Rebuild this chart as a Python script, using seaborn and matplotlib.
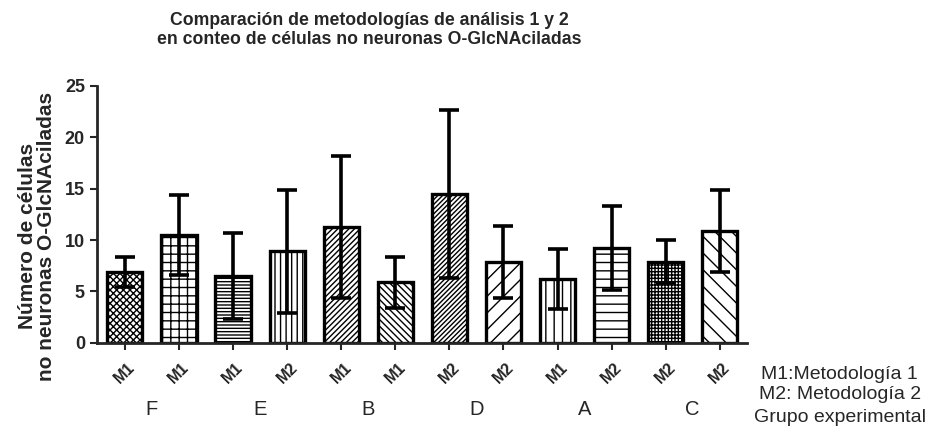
import numpy as np
import pandas as pd
import matplotlib
matplotlib.use("Agg")
import matplotlib.pyplot as plt
import seaborn as sns

# Values (mean and SD per bar)
bar_ids = ["b1", "b2", "b3", "b4", "b5", "b6", "b7", "b8", "b9", "b10", "b11", "b12"]
metodo = ["M1", "M1", "M1", "M2", "M1", "M1", "M2", "M2", "M1", "M2", "M2", "M2"]
media = [6.9, 10.5, 6.5, 8.9, 11.3, 5.9, 14.5, 7.9, 6.2, 9.2, 7.9, 10.9]
sd = [1.5, 3.9, 4.2, 6.0, 6.9, 2.5, 8.2, 3.5, 2.9, 4.1, 2.1, 4.0]
grupos = ["F", "E", "B", "D", "A", "C"]
hatches = ["xxxxx", "++", "-----", "|||", "//////", "\\\\\\\\\\", "///////", "//", "||", "--", "+++++", "\\\\"]

df = pd.DataFrame({"bar": bar_ids, "media": media})

sns.set_style("ticks")
plt.rcParams["font.family"] = ["Liberation Sans", "DejaVu Sans"]
plt.rcParams["hatch.linewidth"] = 1.0

fig = plt.figure(figsize=(9.3, 4.34), dpi=100)
ax = fig.add_axes([0.104, 0.21, 0.699, 0.592])

sns.barplot(data=df, x="bar", y="media", order=bar_ids, color="white",
            width=0.65, edgecolor="black", linewidth=2.4, ax=ax, zorder=2)
for p, h in zip(ax.patches, hatches):
    p.set_hatch(h)
    p.set_facecolor("white")
    p.set_edgecolor("black")

ax.errorbar(np.arange(len(bar_ids)), media, yerr=sd, fmt="none", ecolor="black",
            elinewidth=2.6, capsize=7, capthick=2.6, zorder=3)

ax.set_xlim(-0.52, 11.5)
ax.set_ylim(0, 25)
ax.set_yticks([0, 5, 10, 15, 20, 25])
ax.set_yticklabels(["0", "5", "10", "15", "20", "25"], fontsize=13, fontweight="bold")
ax.set_xticks(np.arange(len(bar_ids)))
ax.set_xticklabels(metodo, rotation=45, fontsize=11.5, fontweight="bold",
                   ha="center", va="top")
ax.tick_params(axis="both", width=1.5, length=5)
ax.tick_params(axis="x", pad=7)
for s in ["left", "bottom"]:
    ax.spines[s].set_linewidth(2)
sns.despine(ax=ax)
ax.set_xlabel("")
ax.set_ylabel("Número de células\nno neuronas O-GlcNAciladas", fontsize=15,
              fontweight="bold", linespacing=1.0)
ax.yaxis.set_label_coords(-0.063, 0.415)

fig.text(0.397, 0.972, "Comparación de metodologías de análisis 1 y 2\n"
         "en conteo de células no neuronas O-GlcNAciladas",
         ha="center", va="top", fontsize=12.7, fontweight="bold", linespacing=1.15)

for i, g in enumerate(grupos):
    ax.text(2 * i + 0.5, -0.26, g, transform=ax.get_xaxis_transform(),
            ha="center", va="center", fontsize=14.5)

fig.text(0.903, 0.138, "M1:Metodología 1", ha="center", va="center", fontsize=14)
fig.text(0.903, 0.090, "M2: Metodología 2", ha="center", va="center", fontsize=14)
fig.text(0.903, 0.037, "Grupo experimental", ha="center", va="center", fontsize=14)

fig.savefig("out.png", dpi=100)
